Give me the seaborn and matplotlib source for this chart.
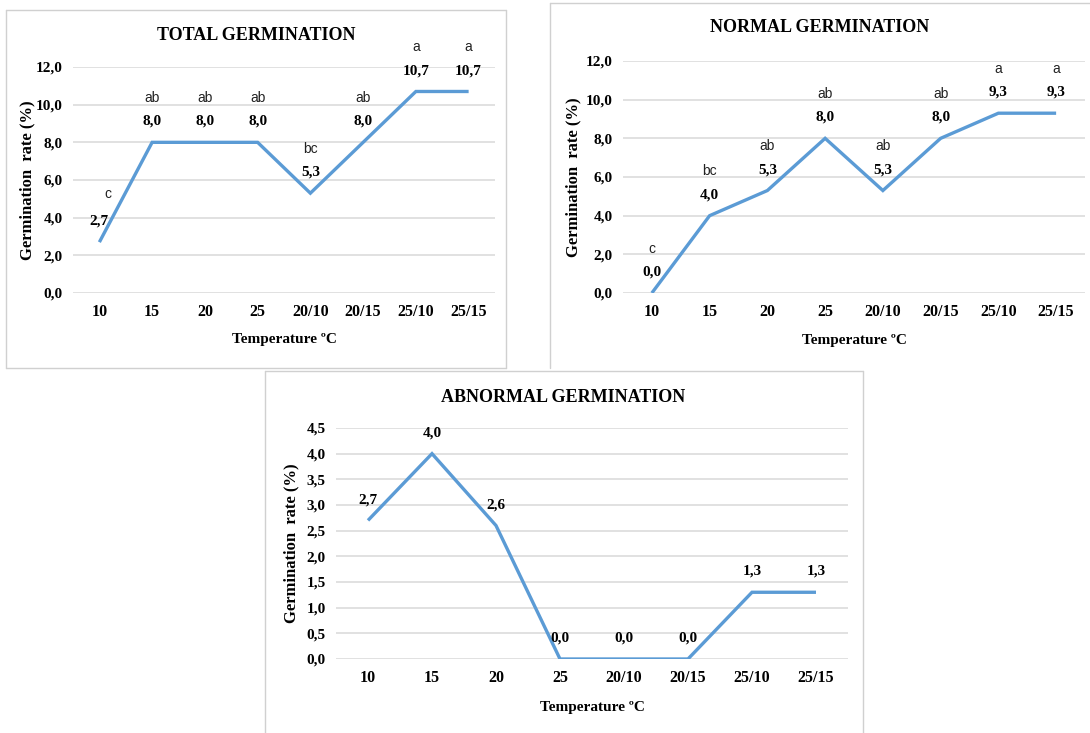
import numpy as np
import pandas as pd
import matplotlib
matplotlib.use("Agg")
import matplotlib.pyplot as plt
from matplotlib.lines import Line2D
import seaborn as sns

categories = ['10', '15', '20', '25', '20/10', '20/15', '25/10', '25/15']
total = [2.7, 8.0, 8.0, 8.0, 5.3, 8.0, 10.7, 10.7]
total_letters = ['c', 'ab', 'ab', 'ab', 'bc', 'ab', 'a', 'a']
normal = [0.0, 4.0, 5.3, 8.0, 5.3, 8.0, 9.3, 9.3]
normal_letters = ['c', 'bc', 'ab', 'ab', 'ab', 'ab', 'a', 'a']
abnormal = [2.7, 4.0, 2.6, 0.0, 0.0, 0.0, 1.3, 1.3]
abnormal_letters = [None] * 8

titles = ['TOTAL GERMINATION', 'NORMAL GERMINATION', 'ABNORMAL GERMINATION']
xlabel = 'Temperature ºC'
ylabel = 'Germination  rate (%)'

sns.set_theme(style='white')
plt.rcParams['font.family'] = ['Liberation Serif', 'DejaVu Serif']

W, H = 1090, 733
fig = plt.figure(figsize=(W / 100, H / 100), dpi=100)
fig.patch.set_facecolor('white')

BLUE = '#5B9BD5'
GRID = '#D9D9D9'


def fx(px):
    return px / W


def fy(py):
    return 1 - py / H


def border(x0, y0, x1, y1, sides):
    pts = {'top': ([x0, x1], [y0, y0]), 'bottom': ([x0, x1], [y1, y1]),
           'left': ([x0, x0], [y0, y1]), 'right': ([x1, x1], [y0, y1])}
    for s in sides:
        xs, ys = pts[s]
        fig.add_artist(Line2D([fx(v) for v in xs], [fy(v) for v in ys],
                              transform=fig.transFigure, color='#D0D0D0', lw=1.0))


border(6, 10, 506, 368, ['top', 'bottom', 'left', 'right'])
border(550, 3, 1095, 368, ['top', 'left'])
border(265, 371, 863, 740, ['top', 'left', 'right'])

panels = [
    dict(l=73, r=495, t=67, b=293, ymax=12.0, step=2.0, vals=total, lets=total_letters,
         title=(256, 35), ylab=27, xlab=339, title_text=titles[0]),
    dict(l=623, r=1085, t=61, b=293, ymax=12.0, step=2.0, vals=normal, lets=normal_letters,
         title=(820, 27), ylab=573, xlab=340, title_text=titles[1]),
    dict(l=336, r=848, t=428, b=659, ymax=4.5, step=0.5, vals=abnormal, lets=abnormal_letters,
         title=(563, 397), ylab=291, xlab=707, title_text=titles[2]),
]

for i, p in enumerate(panels):
    ax = fig.add_axes([fx(p['l']), fy(p['b']), (p['r'] - p['l']) / W, (p['b'] - p['t']) / H])
    df = pd.DataFrame({'pos': np.arange(len(categories)), 'val': p['vals']})
    sns.lineplot(data=df, x='pos', y='val', ax=ax, color=BLUE, lw=2.4, sort=False,
                 solid_capstyle='butt', solid_joinstyle='miter', zorder=3)
    ax.set_xlim(-0.5, len(categories) - 0.5)
    ax.set_ylim(0, p['ymax'])
    yt = np.arange(0, p['ymax'] + 1e-9, p['step'])
    ax.set_yticks(yt)
    ax.set_yticklabels([f"{v:.1f}".replace('.', ',') for v in yt])
    ax.set_xticks(np.arange(len(categories)))
    ax.set_xticklabels(categories)
    for s in ax.spines.values():
        s.set_visible(False)
    ax.grid(False)
    for v in yt:
        ax.axhline(v, color=GRID, lw=1.1, zorder=1)
    ax.tick_params(axis='both', length=0, colors='black')
    ax.tick_params(axis='x', pad=8, labelsize=11.5)
    ax.tick_params(axis='y', pad=7.5, labelsize=11)
    for lab in ax.get_xticklabels() + ax.get_yticklabels():
        lab.set_fontweight('bold')
    ax.set_xlabel(xlabel, fontsize=11, fontweight='bold', color='black')
    ax.xaxis.set_label_coords(0.5, -(p['xlab'] - p['b']) / (p['b'] - p['t']))
    ax.xaxis.label.set_va('center')
    ax.set_ylabel(ylabel, fontsize=12, fontweight='bold', color='black')
    ax.yaxis.set_label_coords(-(p['l'] - p['ylab']) / (p['r'] - p['l']), 0.5)
    ax.yaxis.label.set_va('center')
    ax.set_facecolor('none')

    for j, (v, let) in enumerate(zip(p['vals'], p['lets'])):
        ax.annotate(f"{v:.1f}".replace('.', ','), xy=(j, v), xytext=(0, 15),
                    textcoords='offset points', ha='center', va='center',
                    fontsize=11, fontweight='bold', color='black', zorder=4)
        if let:
            dx = 6 if (i == 0 and j == 0) else 0
            dy = 35 if (i == 0 and j == 0) else 32
            ax.annotate(let, xy=(j, v), xytext=(dx, dy), textcoords='offset points',
                        ha='center', va='center', fontsize=10,
                        family=['Liberation Sans', 'DejaVu Sans'], color='#222222')

    fig.text(fx(p['title'][0]), fy(p['title'][1]), p['title_text'], ha='center', va='center',
             fontsize=13, fontweight='bold', color='black')

fig.savefig('out.png', dpi=100, facecolor='white')
